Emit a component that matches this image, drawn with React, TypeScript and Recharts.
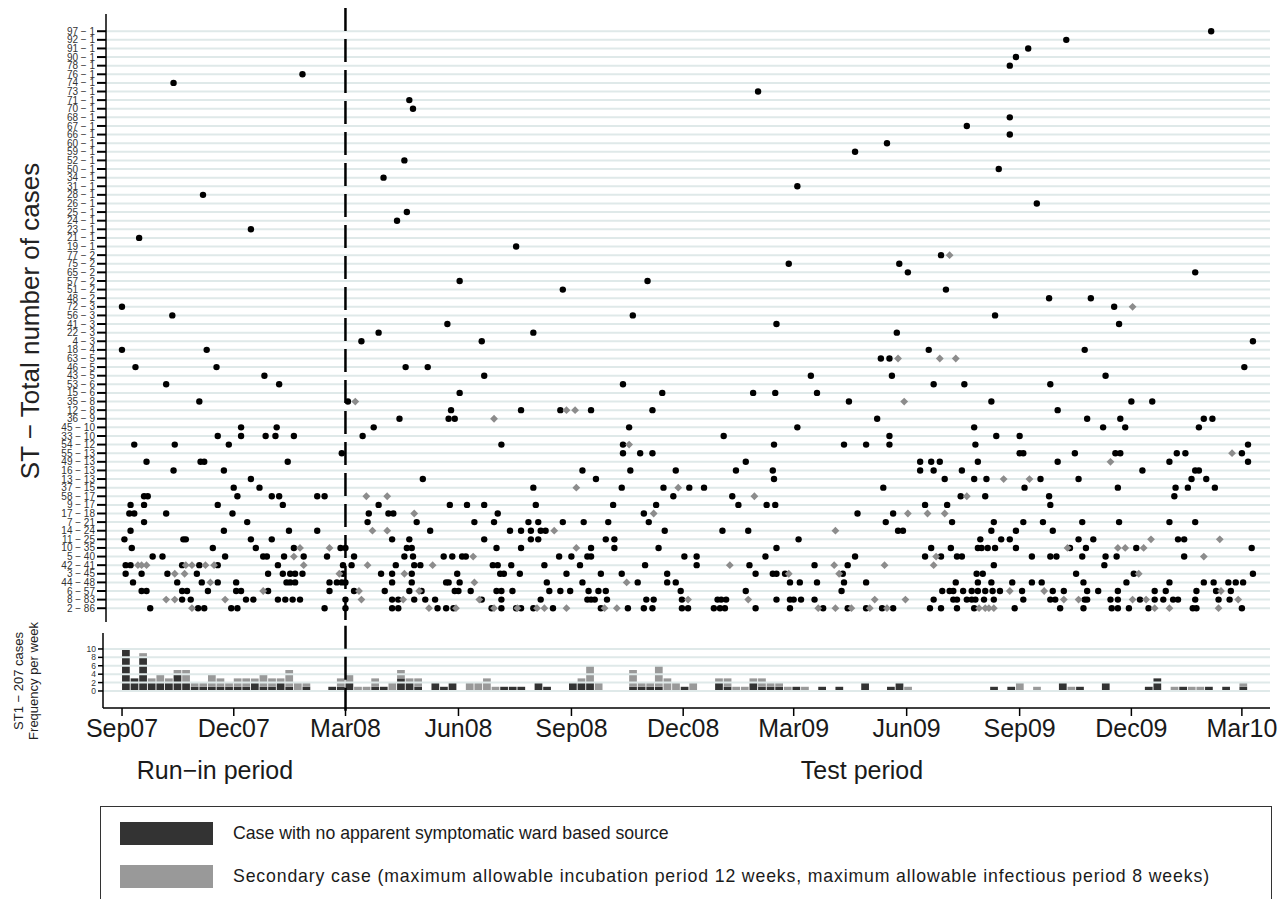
import React from 'react';
import {
  ComposedChart,
  Scatter,
  XAxis,
  YAxis,
  ReferenceLine,
  BarChart,
  Bar,
} from 'recharts';

// ST type labels, top to bottom
const stTypes = [
  '97 − 1', '92 − 1', '91 − 1', '90 − 1', '78 − 1', '76 − 1', '74 − 1', '73 − 1', '71 − 1', '70 − 1',
  '68 − 1', '67 − 1', '66 − 1', '60 − 1', '59 − 1', '52 − 1', '50 − 1', '34 − 1', '31 − 1', '28 − 1',
  '26 − 1', '25 − 1', '24 − 1', '23 − 1', '21 − 1', '19 − 1', '77 − 2', '75 − 2', '65 − 2', '57 − 2',
  '51 − 2', '48 − 2', '72 − 3', '56 − 3', '41 − 3', '22 − 3', '4 − 3', '18 − 4', '63 − 5', '46 − 5',
  '43 − 5', '53 − 6', '15 − 6', '35 − 8', '12 − 8', '36 − 9', '45 − 10', '33 − 10', '54 − 12', '55 − 13',
  '49 − 13', '16 − 13', '13 − 13', '37 − 15', '58 − 17', '9 − 17', '17 − 18', '7 − 21', '14 − 24', '11 − 25',
  '10 − 35', '5 − 40', '42 − 41', '3 − 45', '44 − 48', '6 − 57', '8 − 83', '2 − 86',
];

// days since 1 Sep 2007, cases with no apparent ward based source (same order as stTypes)
const noSourceDays: number[][] = [
  [887], [769], [738], [728], [723], [147], [42], [518], [234], [237],
  [723], [688], [723], [623], [597], [230], [714], [213], [550], [66],
  [745], [232], [224], [105], [14], [321], [667], [543, 633], [640, 874], [275, 428],
  [359, 671], [755, 789], [0, 808], [41, 416, 711], [265, 533, 812], [209, 335, 631], [195, 293, 921],
  [0, 69, 657, 784], [618, 625], [11, 77, 231, 249, 914],
  [116, 295, 561, 627, 801],
  [36, 128, 408, 661, 686, 756],
  [275, 440, 514, 532, 566],
  [63, 184, 592, 708, 822, 839],
  [268, 325, 357, 382, 432, 762],
  [226, 266, 271, 615, 786, 813, 881, 888],
  [97, 126, 205, 413, 550, 694, 799, 817, 877],
  [78, 97, 117, 125, 140, 196, 490, 625, 712, 731],
  [10, 43, 87, 309, 408, 531, 588, 606, 625, 695, 917],
  [179, 408, 422, 432, 731, 734, 776, 809, 813, 859, 866, 912],
  [20, 64, 67, 135, 508, 650, 659, 666, 697, 762, 853, 917],
  [42, 83, 375, 414, 451, 500, 530, 650, 661, 684, 831, 874, 877],
  [105, 245, 386, 531, 670, 694, 704, 748, 779, 871, 883],
  [91, 112, 335, 407, 441, 462, 474, 620, 735, 811, 858, 868, 890],
  [18, 21, 94, 122, 128, 159, 165, 449, 497, 683, 703, 755, 857],
  [7, 18, 78, 131, 209, 267, 281, 295, 337, 400, 435, 502, 525, 532, 654, 672, 756],
  [6, 10, 36, 90, 201, 217, 221, 306, 425, 599, 628],
  [18, 102, 200, 240, 287, 303, 331, 339, 359, 376, 396, 429, 622, 676, 710, 734, 750, 782, 812, 853, 874],
  [7, 83, 136, 159, 251, 316, 325, 333, 341, 345, 442, 489, 510, 632, 636, 708, 728, 758],
  [2, 50, 52, 105, 122, 220, 234, 295, 333, 339, 394, 401, 551, 699, 716, 723, 779, 791, 860, 865],
  [8, 74, 109, 140, 178, 182, 232, 236, 305, 325, 382, 401, 437, 533, 659, 675, 697, 700, 705, 711,
    728, 772, 785, 826, 920],
  [25, 33, 84, 115, 118, 132, 148, 167, 189, 230, 237, 262, 269, 277, 280, 356, 366, 379, 382, 458,
    468, 524, 597, 654, 667, 680, 684, 741, 756, 761, 782, 801, 810, 865],
  [3, 7, 49, 63, 78, 127, 180, 187, 223, 238, 243, 302, 306, 317, 344, 373, 426, 468, 511, 564, 591, 710, 800],
  [3, 16, 37, 61, 119, 131, 137, 141, 147, 180, 211, 220, 236, 273, 308, 311, 324, 362, 390, 407,
    444, 516, 530, 533, 540, 587, 696, 701, 777, 824, 921],
  [9, 45, 65, 78, 93, 134, 137, 141, 169, 175, 179, 182, 220, 236, 264, 266, 275, 346, 375, 420,
    444, 451, 544, 552, 566, 588, 606, 679, 697, 708, 725, 741, 749, 783, 818, 853, 881, 889, 901, 907, 913],
  [16, 20, 49, 53, 70, 93, 97, 119, 169, 189, 214, 234, 244, 271, 274, 284, 305, 309, 318, 348,
    357, 365, 380, 388, 394, 455, 508, 586, 668, 674, 677, 685, 692, 697, 703, 709, 715, 733, 758, 767,
    786, 795, 811, 841, 850, 875, 891, 903],
  [49, 56, 101, 107, 127, 133, 139, 145, 182, 220, 225, 238, 247, 255, 293, 309, 341, 379, 382, 385,
    395, 427, 433, 456, 485, 488, 492, 533, 544, 547, 553, 564, 661, 677, 680, 688, 692, 695, 702, 710,
    734, 756, 760, 784, 786, 805, 811, 829, 841, 848, 856, 860, 874, 893, 902],
  [23, 62, 67, 89, 94, 165, 182, 220, 225, 257, 264, 270, 301, 309, 321, 325, 335, 351, 390, 412,
    425, 432, 456, 461, 482, 487, 491, 516, 544, 571, 591, 606, 619, 628, 658, 667, 680, 694, 727, 764,
    783, 806, 811, 820, 836, 872, 875, 912],
];

// secondary cases (same order as stTypes)
const secondaryDays: number[][] = [
  [], [], [], [], [], [], [], [], [], [],
  [], [], [], [], [], [], [], [], [], [],
  [], [], [], [], [], [], [674], [], [], [],
  [], [], [823], [], [], [], [],
  [], [632, 666, 679], [],
  [], [], [],
  [190, 637],
  [362, 369],
  [303],
  [],
  [],
  [413],
  [904],
  [805],
  [],
  [718, 739],
  [370, 453],
  [199, 216, 515, 688],
  [],
  [238, 433, 640, 656, 670],
  [],
  [204, 216, 352, 581],
  [838, 894],
  [145, 169, 370, 770, 811, 817, 832],
  [140, 286, 663, 881],
  [13, 16, 20, 52, 57, 68, 75, 148, 200, 253, 495, 580, 621, 661],
  [43, 51, 177, 230, 543, 584, 828],
  [72, 287, 411],
  [115, 193, 242, 723, 751, 895],
  [36, 43, 84, 195, 229, 291, 461, 510, 613, 638, 767, 779, 823, 834, 909],
  [57, 250, 272, 303, 322, 338, 344, 362, 393, 403, 567, 581, 594, 609, 623, 698, 703, 706, 710, 841, 853, 893],
];

// ST1 cases per week, week 0 starting 1 Sep 2007
const st1NoSource = [
  10, 3, 8, 2, 2, 2, 4, 2, 1, 1, 1, 1, 1, 1, 1, 2, 1, 1, 2, 1,
  0, 1, 0, 0, 1, 1, 2, 0, 0, 1, 1, 0, 3, 2, 1, 0, 2, 1, 2, 0,
  0, 0, 0, 0, 1, 1, 1, 0, 2, 1, 0, 0, 2, 2, 2, 0, 0, 0, 0, 1,
  1, 1, 1, 0, 0, 1, 0, 0, 0, 2, 1, 0, 0, 2, 1, 1, 1, 0, 1, 0,
  0, 1, 0, 1, 0, 0, 2, 0, 0, 1, 2, 0, 0, 0, 0, 0, 0, 0, 0, 0,
  0, 1, 0, 1, 0, 0, 0, 0, 0, 2, 0, 1, 0, 0, 2, 0, 0, 0, 0, 1,
  3, 0, 0, 1, 0, 0, 1, 0, 1, 0, 1,
];
const st1Secondary = [
  0, 0, 1, 1, 2, 1, 1, 3, 1, 1, 3, 2, 1, 2, 2, 1, 3, 2, 1, 4,
  2, 1, 0, 0, 0, 2, 2, 1, 1, 2, 0, 2, 2, 1, 2, 0, 0, 0, 0, 0,
  2, 2, 3, 1, 0, 0, 0, 0, 0, 0, 0, 0, 0, 1, 4, 2, 0, 0, 0, 4,
  1, 1, 5, 3, 2, 0, 2, 0, 0, 1, 2, 1, 1, 1, 2, 1, 1, 1, 0, 1,
  0, 0, 0, 0, 0, 0, 0, 0, 0, 0, 0, 1, 0, 0, 0, 0, 0, 0, 0, 0,
  0, 0, 0, 0, 2, 0, 1, 0, 0, 0, 1, 0, 0, 0, 0, 0, 0, 0, 0, 0,
  0, 0, 1, 0, 1, 1, 0, 0, 0, 0, 1,
];

const monthTicks = [0, 91, 182, 274, 366, 457, 547, 639, 731, 822, 912];
const monthLabels = ['Sep07', 'Dec07', 'Mar08', 'Jun08', 'Sep08', 'Dec08', 'Mar09', 'Jun09', 'Sep09', 'Dec09', 'Mar10'];
const freqTicks = [0, 2, 4, 6, 8, 10];

const testStart = 182; // Mar08

const FONT = '"Liberation Sans", Arial, Helvetica, sans-serif';
const DARK = '#333333';
const GREY = '#999999';
const ROWLINE = '#dfe9e9';

const last = stTypes.length - 1;
const toPoints = (rows: number[][]) =>
  rows.flatMap((days, i) => days.map((d) => ({ x: d, y: last - i })));
const noSourcePts = toPoints(noSourceDays);
const secondaryPts = toPoints(secondaryDays);
const rowTicks = stTypes.map((_, i) => i);

const weekly = st1NoSource.map((v, i) => ({
  x: i * 7 + 3.5,
  noSource: v,
  secondary: st1Secondary[i],
}));

const BlackDot = (p: any) => <circle cx={p.cx} cy={p.cy} r={3.2} fill="#000" />;
const GreyDiamond = (p: any) => (
  <path
    d={`M${p.cx},${p.cy - 3.9}L${p.cx + 3.9},${p.cy}L${p.cx},${p.cy + 3.9}L${p.cx - 3.9},${p.cy}Z`}
    fill="#8c8c8c"
  />
);

const legendItems = [
  { color: DARK, text: 'Case with no apparent symptomatic ward based source', top: 15, spacing: 0 },
  {
    color: GREY,
    text: 'Secondary case (maximum allowable incubation period 12 weeks, maximum allowable infectious period 8 weeks)',
    top: 58,
    spacing: 0.85,
  },
];

const App = () => {
  return (
    <div
      style={{
        position: 'absolute',
        left: 0,
        top: 0,
        width: 1285,
        height: 899,
        overflow: 'hidden',
        background: '#fff',
        fontFamily: FONT,
      }}
    >
      <div style={{ position: 'absolute', left: 0, top: 0 }}>
        <ComposedChart width={1285} height={640} margin={{ top: 14, right: 15, bottom: 18, left: 0 }}>
          <XAxis dataKey="x" type="number" domain={[-13, 934.9]} hide />
          <YAxis
            dataKey="y"
            type="number"
            domain={[-1.6, 69]}
            ticks={rowTicks}
            interval={0}
            width={106}
            tickFormatter={(v: number) => stTypes[last - v]}
            tick={{ fontSize: 10, fill: '#333', fontFamily: FONT }}
            tickSize={9}
            tickMargin={2}
            tickLine={{ stroke: '#000', strokeWidth: 2 }}
            axisLine={{ stroke: '#000', strokeWidth: 1.5 }}
          />
          {rowTicks.map((r) => (
            <ReferenceLine key={r} y={r} stroke={ROWLINE} strokeWidth={2} />
          ))}
          <ReferenceLine
            segment={[{ x: testStart, y: 69.7 }, { x: testStart, y: -1.6 }]}
            ifOverflow="visible"
            stroke="#000"
            strokeWidth={2.5}
            strokeDasharray="23 8"
          />
          <Scatter data={noSourcePts} shape={BlackDot} isAnimationActive={false} />
          <Scatter data={secondaryPts} shape={GreyDiamond} isAnimationActive={false} />
        </ComposedChart>
      </div>

      <div style={{ position: 'absolute', left: 0, top: 622 }}>
        <BarChart
          width={1285}
          height={140}
          data={weekly}
          margin={{ top: 11, right: 15, bottom: 0, left: 0 }}
          barGap={0}
        >
          <XAxis
            dataKey="x"
            type="number"
            domain={[-15.5, 934.9]}
            ticks={monthTicks}
            interval={0}
            height={54}
            tickFormatter={(v: number) => monthLabels[monthTicks.indexOf(v)]}
            tick={{ fontSize: 25, fill: '#1a1a1a', fontFamily: FONT }}
            tickSize={8}
            tickMargin={3}
            tickLine={{ stroke: '#000', strokeWidth: 1.5 }}
            axisLine={{ stroke: '#000', strokeWidth: 1.5 }}
          />
          <YAxis
            type="number"
            domain={[-4.05, 13.8]}
            ticks={freqTicks}
            interval={0}
            width={103}
            tick={{ fontSize: 8.5, fill: '#333', fontFamily: FONT }}
            tickSize={5}
            tickMargin={2}
            tickLine={{ stroke: '#000', strokeWidth: 1.5 }}
            axisLine={{ stroke: '#000', strokeWidth: 1.5 }}
          />
          {freqTicks.map((f) => (
            <ReferenceLine key={f} y={f} stroke={ROWLINE} strokeWidth={2} />
          ))}
          <Bar dataKey="noSource" stackId="a" fill={DARK} barSize={8.6} isAnimationActive={false} />
          <Bar dataKey="secondary" stackId="a" fill={GREY} barSize={8.6} isAnimationActive={false} />
          <ReferenceLine
            segment={[{ x: testStart, y: 15.5 }, { x: testStart, y: -6 }]}
            ifOverflow="visible"
            stroke="#000"
            strokeWidth={2.5}
            strokeDasharray="23 8"
          />
        </BarChart>
      </div>

      <div
        style={{
          position: 'absolute',
          left: 30,
          top: 321,
          transform: 'translate(-50%, -50%) rotate(-90deg)',
          whiteSpace: 'nowrap',
          fontSize: 26,
          color: '#222',
        }}
      >
        ST − Total number of cases
      </div>
      <div
        style={{
          position: 'absolute',
          left: 26,
          top: 681,
          transform: 'translate(-50%, -50%) rotate(-90deg)',
          whiteSpace: 'nowrap',
          fontSize: 13,
          lineHeight: '15px',
          textAlign: 'center',
          color: '#222',
        }}
      >
        ST1 − 207 cases
        <br />
        Frequency per week
      </div>
      <div
        style={{
          position: 'absolute',
          left: 215,
          top: 770,
          transform: 'translate(-50%, -50%)',
          whiteSpace: 'nowrap',
          fontSize: 25,
          color: '#1a1a1a',
        }}
      >
        Run−in period
      </div>
      <div
        style={{
          position: 'absolute',
          left: 862,
          top: 770,
          transform: 'translate(-50%, -50%)',
          whiteSpace: 'nowrap',
          fontSize: 25,
          color: '#1a1a1a',
        }}
      >
        Test period
      </div>

      <div
        style={{
          position: 'absolute',
          left: 100,
          top: 806,
          width: 1172,
          height: 140,
          border: '1.5px solid #333',
          boxSizing: 'border-box',
        }}
      >
        {legendItems.map((item) => (
          <div
            key={item.text}
            style={{ position: 'absolute', left: 19, top: item.top, display: 'flex', alignItems: 'center' }}
          >
            <div style={{ width: 93, height: 23, background: item.color }} />
            <div
              style={{
                marginLeft: 20,
                fontSize: 17.7,
                letterSpacing: item.spacing,
                color: '#1a1a1a',
                whiteSpace: 'nowrap',
              }}
            >
              {item.text}
            </div>
          </div>
        ))}
      </div>
    </div>
  );
};

export default App;
